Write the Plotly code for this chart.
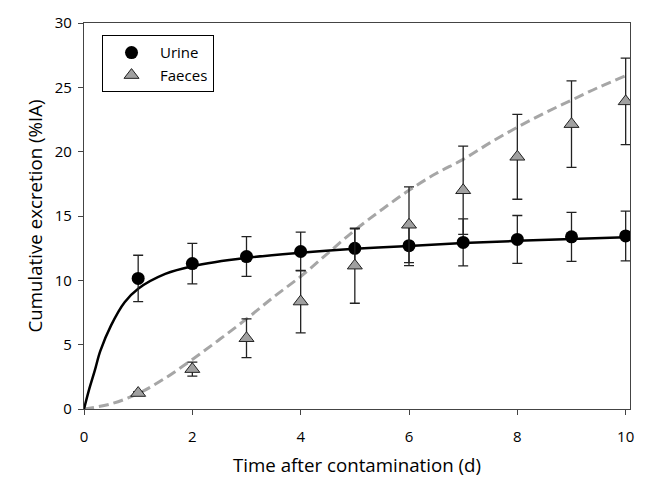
import plotly.graph_objects as go

# Observed data (days after contamination)
days = [1, 2, 3, 4, 5, 6, 7, 8, 9, 10]
urine = [10.15, 11.3, 11.85, 12.24, 12.49, 12.69, 12.95, 13.18, 13.38, 13.45]
urine_err = [1.8, 1.57, 1.55, 1.5, 1.52, 1.55, 1.82, 1.86, 1.9, 1.93]
faeces = [1.24, 3.1, 5.5, 8.35, 11.14, 14.32, 17.0, 19.6, 22.14, 23.91]
faeces_err = [0.1, 0.55, 1.5, 2.43, 2.92, 2.94, 3.43, 3.3, 3.36, 3.36]

# Fitted curves
urine_fit_t = [0, 0.1, 0.2, 0.3, 0.5, 0.75, 1.0, 1.5, 2, 3, 4, 5, 6, 7, 8, 9, 10]
urine_fit_y = [0, 1.6, 3.0, 4.5, 6.5, 8.3, 9.35, 10.5, 11.1, 11.75, 12.15, 12.45, 12.67, 12.9, 13.07, 13.22, 13.35]
faeces_fit_t = [0, 0.5, 1, 1.5, 2, 2.5, 3, 3.5, 4, 4.5, 5, 5.5, 6, 6.5, 7, 7.5, 8, 8.5, 9, 9.5, 10]
faeces_fit_y = [0, 0.4, 1.2, 2.4, 3.85, 5.4, 7.0, 8.7, 10.3, 12.1, 13.9, 15.5, 17.0, 18.3, 19.4, 20.7, 21.9, 23.0, 24.0, 25.0, 25.9]

x_ticks = [0, 2, 4, 6, 8, 10]
y_ticks = [0, 5, 10, 15, 20, 25, 30]

FONT = "'Open Sans', Lato, sans-serif"
AX = "#444444"

fig = go.Figure()
fig.add_trace(go.Scatter(x=faeces_fit_t, y=faeces_fit_y, mode="lines",
                         line=dict(color="#a6a6a6", width=3, dash="10px,5px", shape="spline"),
                         showlegend=False, hoverinfo="skip"))
fig.add_trace(go.Scatter(x=urine_fit_t, y=urine_fit_y, mode="lines",
                         line=dict(color="black", width=2.5, shape="spline"),
                         showlegend=False, hoverinfo="skip"))
fig.add_trace(go.Scatter(x=days, y=urine, mode="markers", name="Urine",
                         marker=dict(symbol="circle", size=13, color="black"),
                         error_y=dict(type="data", array=urine_err, color="#222222", thickness=1.3, width=5)))
fig.add_trace(go.Scatter(x=days, y=faeces, mode="markers", name="Faeces",
                         marker=dict(symbol="triangle-up", size=13, color="#a0a0a0",
                                     line=dict(color="#222222", width=1)),
                         error_y=dict(type="data", array=faeces_err, color="#222222", thickness=1.3, width=5)))

fig.update_layout(
    width=646, height=491,
    margin=dict(l=84, r=14, t=15, b=82),
    plot_bgcolor="white", paper_bgcolor="white",
    font=dict(family=FONT, size=15, color="black"),
    legend=dict(x=0.033, y=0.968, xanchor="left", yanchor="top",
                bordercolor="black", borderwidth=1, bgcolor="white",
                font=dict(size=15), itemwidth=47),
    xaxis=dict(range=[0, 10.08], tickvals=x_ticks, ticks="outside", ticklen=5,
               tickcolor=AX, showline=True, linecolor=AX, linewidth=1.2, mirror=True,
               showgrid=False, zeroline=False, ticklabelstandoff=9,
               title=dict(text="Time after contamination (d)", font=dict(size=18.7), standoff=13)),
    yaxis=dict(range=[0, 30], tickvals=y_ticks, ticks="outside", ticklen=5,
               tickcolor=AX, showline=True, linecolor=AX, linewidth=1.2, mirror=True,
               showgrid=False, zeroline=False, ticklabelstandoff=3,
               title=dict(text="Cumulative excretion (%IA)", font=dict(size=18.7), standoff=7)),
)

fig.write_html("out.html")
